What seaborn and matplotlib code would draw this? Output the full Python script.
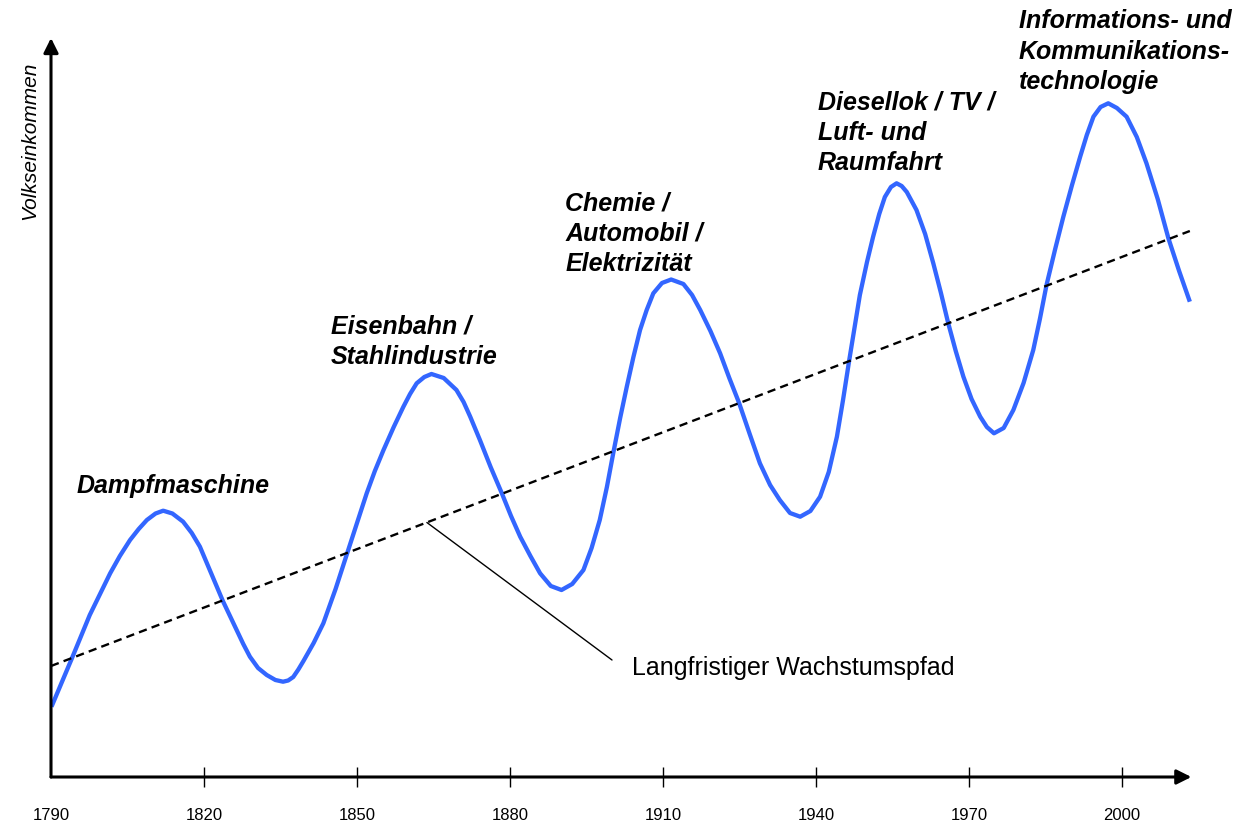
import matplotlib
matplotlib.use("Agg")
import matplotlib.pyplot as plt
import seaborn as sns

# Werte (Jahr, Volkseinkommen in Bildeinheiten)
wave_years = [1790.1, 1794.1, 1797.6, 1801.6, 1803.5, 1805.5, 1807.2, 1808.8, 1810.5, 1812.0,
              1813.8, 1815.9, 1817.6, 1819.2, 1822.5, 1823.7, 1826.4, 1827.7, 1829.0, 1830.6,
              1832.3, 1834.0, 1835.5, 1836.5, 1837.5, 1838.5, 1839.5, 1841.5, 1843.4, 1845.8,
              1848.1, 1850.0, 1851.9, 1853.5, 1855.2, 1857.2, 1859.1, 1860.4, 1861.7, 1863.2,
              1864.6, 1867.0, 1869.5, 1870.9, 1872.2, 1874.1, 1876.2, 1878.4, 1880.2, 1882.0,
              1884.0, 1885.9, 1888.0, 1890.1, 1892.2, 1894.4, 1896.0, 1897.6, 1899.0, 1900.3,
              1901.6, 1902.9, 1904.2, 1905.5, 1906.8, 1908.1, 1909.8, 1911.6, 1914.0, 1915.7,
              1917.3, 1919.3, 1921.2, 1923.0, 1924.9, 1927.0, 1929.0, 1931.0, 1932.9, 1934.9,
              1936.9, 1938.9, 1940.8, 1942.5, 1944.1, 1945.3, 1946.5, 1947.6, 1948.6, 1950.0,
              1951.2, 1952.4, 1953.5, 1954.7, 1955.8, 1956.8, 1957.8, 1959.7, 1961.4, 1963.0,
              1964.5, 1965.9, 1967.4, 1968.9, 1970.5, 1972.2, 1973.5, 1974.9, 1976.8, 1978.7,
              1980.7, 1982.6, 1983.9, 1985.2, 1986.9, 1988.5, 1990.2, 1991.8, 1993.1, 1994.4,
              1995.8, 1997.3, 1999.0, 2000.9, 2002.9, 2004.8, 2007.0, 2009.1, 2011.2, 2013.3]
wave_values = [70.3, 118.7, 162, 203.7, 221, 237, 248, 257, 263.5, 266.3,
               263.5, 255.3, 244, 230.3, 190.3, 176, 147, 133, 120.3, 109,
               102, 97, 95.3, 96.5, 100, 107.5, 116, 134, 153.7, 188,
               224.3, 254, 283.7, 306, 327, 350, 370.3, 383, 393.7, 400,
               403, 399, 387, 375, 360.3, 337, 310, 283.7, 261, 240.3,
               221, 203.7, 191, 187, 193, 207, 229, 257, 290, 325.3,
               359, 390.3, 420, 447, 467, 483.7, 494, 497.5, 493, 482,
               467, 446, 423.7, 399, 374.3, 343, 313.7, 292, 277, 264,
               260.3, 266, 280.3, 305, 340.3, 377, 416.3, 451, 482, 515,
               540.3, 563, 580, 590, 593.7, 591, 585, 567, 543, 513.7,
               484, 454.3, 426, 400.3, 378, 360.3, 350, 343.7, 349, 367,
               394, 427, 458, 492, 528, 560.3, 592, 620.3, 642, 660.3,
               670, 673.7, 669, 660.3, 640, 613.7, 578, 538.7, 506, 475.3]

trend_years = [1790, 2013.3]
trend_values = [111, 546]

tick_years = [1790, 1820, 1850, 1880, 1910, 1940, 1970, 2000]

labels = ["Dampfmaschine",
          "Eisenbahn /\nStahlindustrie",
          "Chemie /\nAutomobil /\nElektrizität",
          "Diesellok / TV /\nLuft- und\nRaumfahrt",
          "Informations- und\nKommunikations-\ntechnologie"]
label_years = [1795.1, 1844.9, 1890.8, 1940.4, 1979.8]
label_values = [291, 435, 543.5, 644, 725.5]

sns.set_style("white")
plt.rcParams['font.family'] = ['Liberation Sans', 'DejaVu Sans']
plt.rcParams['text.color'] = 'black'
plt.rcParams['xtick.color'] = 'black'

fig = plt.figure(figsize=(12.36, 8.26), dpi=100)
ax = fig.add_axes([51 / 1236, 49 / 826, 1147.5 / 1236, 737 / 826])

sns.lineplot(x=wave_years, y=wave_values, ax=ax, color='#3366ff', linewidth=3.1,
             solid_joinstyle='round', solid_capstyle='butt')
sns.lineplot(x=trend_years, y=trend_values, ax=ax, color='black', linewidth=1.7,
             linestyle=(0, (3.5, 2.2)))

ax.set_xlim(1790, 2015)
ax.set_ylim(0, 737)
sns.despine(ax=ax, left=True, bottom=True, top=True, right=True)
ax.set_yticks([])
ax.set_xticks(tick_years)
ax.set_xticklabels([str(t) for t in tick_years], fontsize=12)
ax.tick_params(axis='x', bottom=True, direction='inout', length=15, width=1,
               color='black', labelcolor='black', pad=15)
ax.xaxis.get_major_ticks()[0].tick1line.set_visible(False)

# Achsenpfeile
ax.annotate('', xy=(2013.6, 0), xytext=(1790, 0), annotation_clip=False,
            arrowprops=dict(arrowstyle='-|>', lw=2.2, color='black', mutation_scale=22,
                            shrinkA=0, shrinkB=0))
ax.annotate('', xy=(1790, 739), xytext=(1790, 0), annotation_clip=False,
            arrowprops=dict(arrowstyle='-|>', lw=2.2, color='black', mutation_scale=22,
                            shrinkA=0, shrinkB=0))

ax.text(1785.9, 636, "Volkseinkommen", rotation=90, style='italic', fontsize=15,
        ha='center', va='center', clip_on=False)

for txt, xx, yy in zip(labels, label_years, label_values):
    ax.text(xx, yy, txt, fontsize=18, fontweight='bold', style='italic',
            ha='left', va='center', linespacing=1.33, clip_on=False)

# Beschriftung Wachstumspfad
ax.plot([1863.7, 1900.0], [254.5, 117], color='black', linewidth=1)
ax.text(1904.0, 109, "Langfristiger Wachstumspfad", fontsize=18, ha='left', va='center')

fig.savefig("out.png", dpi=100)
